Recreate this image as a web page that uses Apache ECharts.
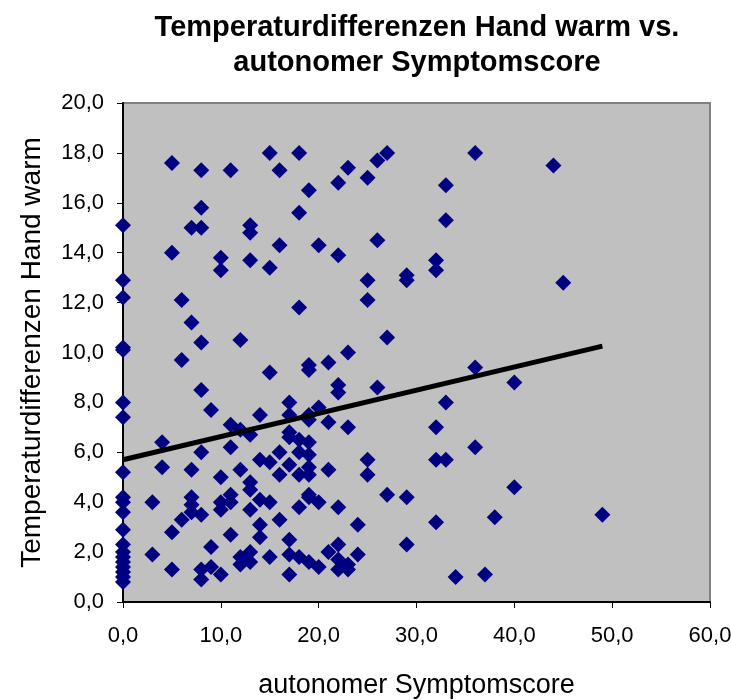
<!DOCTYPE html>
<html>
<head>
<meta charset="utf-8">
<script src="https://cdn.jsdelivr.net/npm/echarts@6/dist/echarts.min.js"></script>
<style>html,body{margin:0;padding:0;background:#fff;}#c{width:731px;height:700px;}</style>
</head>
<body>
<div id="c"></div>
<script>
// Scores (x) grouped, with the temperature differences (y) observed at each score
const scoreValues = [0,3,4,5,6,7,8,9,10,11,12,13,14,15,16,17,18,19,20,21,22,23,24,25,26,27,29,32,33,34,36,37,38,40,44,45,49];
const tempDiffs = [
  [15.1,12.9,12.2,10.2,10.1,8.0,7.4,5.2,4.2,4.0,3.6,2.9,2.3,2.0,1.8,1.6,1.4,1.2,1.0,0.8],
  [4.0,1.9],
  [6.4,5.4],
  [17.6,14.0,2.8,1.3],
  [12.1,9.7,3.3],
  [15.0,11.2,5.3,4.2,3.9,3.6],
  [17.3,15.8,15.0,10.4,8.5,6.0,3.5,1.3,0.9],
  [7.7,2.2,1.4],
  [13.8,13.3,5.0,4.0,3.7,1.1],
  [17.3,7.1,6.2,4.3,4.0,2.7],
  [10.5,6.9,5.3,1.8,1.5],
  [15.1,14.8,13.7,6.7,4.8,4.5,3.7,2.0,1.6],
  [7.5,5.7,4.1,3.1,2.6],
  [18.0,13.4,9.2,5.6,4.0,1.8],
  [17.3,14.3,6.0,5.1,3.3],
  [8.0,7.5,6.8,6.6,5.5,2.5,1.9,1.1],
  [18.0,15.6,11.8,6.5,6.0,5.1,3.8,1.8],
  [16.5,9.5,9.3,7.5,7.3,6.4,5.9,5.4,5.1,4.3,4.2,1.6],
  [14.3,7.8,4.0,1.4],
  [9.6,7.2,5.3,2.0],
  [16.8,13.9,8.7,8.4,3.8,2.3,1.7,1.3],
  [17.4,10.0,7.0,1.5,1.3],
  [3.1,1.9],
  [17.0,12.9,12.1,5.7,5.1],
  [17.7,14.5,8.6],
  [18.0,10.6,4.3],
  [13.1,12.9,4.2,2.3],
  [13.7,13.3,7.0,5.7,3.2],
  [16.7,15.3,8.0,5.7],
  [1.0],
  [18.0,9.4,6.2],
  [1.1],
  [3.4],
  [8.8,4.6],
  [17.5],
  [12.8],
  [3.5]
];
const xTicks = [0,10,20,30,40,50,60];
const yTicks = [0,2,4,6,8,10,12,14,16,18,20];
// Linear trend line: [intercept, slope]
const trendCoef = [5.7, 0.093];

const points = [];
scoreValues.forEach((s, i) => tempDiffs[i].forEach(v => points.push([s, v])));

const xMin = Math.min(...scoreValues), xMax = Math.max(...scoreValues);
const trend = [xMin, xMax].map(x => [x, trendCoef[0] + trendCoef[1] * x]);

const fmt = v => v.toFixed(1).replace('.', ',');
const font = 'Liberation Sans, Arial, sans-serif';

const chart = echarts.init(document.getElementById('c'), null, {renderer: 'canvas'});
chart.setOption({
  animation: false,
  backgroundColor: '#ffffff',
  title: {
    text: 'Temperaturdifferenzen Hand warm vs.\nautonomer Symptomscore',
    left: 412, top: 5, textAlign: 'center',
    textStyle: {fontFamily: font, fontSize: 29, fontWeight: 'bold', color: '#000', lineHeight: 35}
  },
  grid: {
    left: 123, top: 103, width: 587, height: 499,
    outerBoundsMode: 'none', containLabel: false,
    show: true, backgroundColor: '#C0C0C0', borderColor: '#808080', borderWidth: 2
  },
  xAxis: {
    type: 'value', min: xTicks[0], max: xTicks[xTicks.length - 1], interval: 10,
    name: 'autonomer Symptomscore', nameLocation: 'middle', nameGap: 70,
    nameTextStyle: {fontFamily: font, fontSize: 27, color: '#000'},
    axisLine: {show: true, onZero: false, lineStyle: {color: '#000', width: 2}},
    axisTick: {show: true, inside: false, length: 6, lineStyle: {color: '#000', width: 1}},
    axisLabel: {fontFamily: font, fontSize: 22, color: '#000', margin: 23, formatter: fmt},
    splitLine: {show: false}
  },
  yAxis: {
    type: 'value', min: yTicks[0], max: yTicks[yTicks.length - 1], interval: 2,
    name: 'Temperaturdifferenzen Hand warm', nameLocation: 'middle', nameGap: 77,
    nameTextStyle: {fontFamily: font, fontSize: 28, color: '#000'},
    axisLine: {show: true, onZero: false, lineStyle: {color: '#000', width: 2}},
    axisTick: {show: true, inside: false, length: 6, lineStyle: {color: '#000', width: 1}},
    axisLabel: {fontFamily: font, fontSize: 22, color: '#000', margin: 19, formatter: fmt},
    splitLine: {show: false}
  },
  series: [
    {
      type: 'scatter', data: points, symbol: 'diamond', symbolSize: 16,
      itemStyle: {color: '#000080', opacity: 1}, z: 2
    },
    {
      type: 'line', data: trend, showSymbol: false, symbol: 'none',
      lineStyle: {color: '#000', width: 5}, z: 3
    }
  ]
});
</script>
</body>
</html>
